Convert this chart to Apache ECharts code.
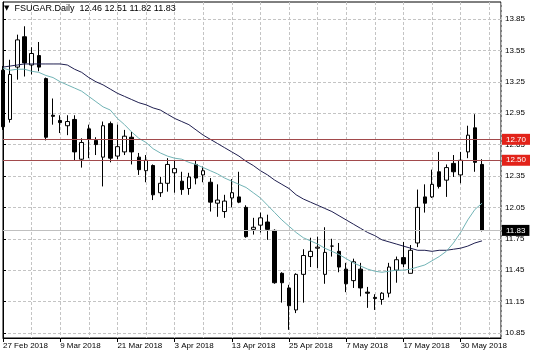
<!DOCTYPE html>
<html><head><meta charset="utf-8">
<script src="https://cdn.jsdelivr.net/npm/echarts@6/dist/echarts.min.js"></script>
<style>html,body{margin:0;padding:0;background:#fff}#c{width:536px;height:357px}</style>
</head><body><div id="c"></div>
<script>
const dates = ['27 Feb 2018','28 Feb 2018','1 Mar 2018','2 Mar 2018','5 Mar 2018','6 Mar 2018','7 Mar 2018','8 Mar 2018','9 Mar 2018','12 Mar 2018',
'13 Mar 2018','14 Mar 2018','15 Mar 2018','16 Mar 2018','19 Mar 2018','20 Mar 2018','21 Mar 2018','22 Mar 2018','23 Mar 2018','26 Mar 2018',
'27 Mar 2018','28 Mar 2018','29 Mar 2018','2 Apr 2018','3 Apr 2018','4 Apr 2018','5 Apr 2018','6 Apr 2018','9 Apr 2018','10 Apr 2018',
'11 Apr 2018','12 Apr 2018','13 Apr 2018','16 Apr 2018','17 Apr 2018','18 Apr 2018','19 Apr 2018','20 Apr 2018','23 Apr 2018','24 Apr 2018',
'25 Apr 2018','26 Apr 2018','27 Apr 2018','30 Apr 2018','1 May 2018','2 May 2018','3 May 2018','4 May 2018','7 May 2018','8 May 2018',
'9 May 2018','10 May 2018','11 May 2018','14 May 2018','15 May 2018','16 May 2018','17 May 2018','18 May 2018','21 May 2018','22 May 2018',
'23 May 2018','24 May 2018','25 May 2018','29 May 2018','30 May 2018','31 May 2018','1 Jun 2018','4 Jun 2018'];
const open = [13.36,12.89,13.39,13.68,13.41,13.50,13.28,12.93,12.88,12.83,
12.89,12.51,12.80,12.69,12.53,12.85,12.54,12.58,12.72,12.53,
12.40,12.45,12.19,12.28,12.38,12.30,12.23,12.46,12.36,12.29,
12.09,12.01,12.14,12.15,12.05,11.84,11.88,11.91,11.83,11.42,
11.28,11.07,11.41,11.58,11.66,11.41,11.68,11.63,11.46,11.35,
11.46,11.24,11.19,11.17,11.23,11.45,11.57,11.42,11.71,12.15,
12.15,12.39,12.31,12.47,12.36,12.58,12.81,12.46];
const close = [12.82,13.32,13.65,13.43,13.52,13.39,12.72,12.92,12.86,12.87,
12.58,12.67,12.70,12.65,12.83,12.52,12.63,12.73,12.58,12.41,
12.50,12.17,12.28,12.46,12.42,12.22,12.34,12.33,12.40,12.10,
12.12,12.11,12.19,12.10,11.77,11.86,11.95,11.84,11.33,11.33,
11.11,11.41,11.59,11.63,11.67,11.62,11.68,11.48,11.32,11.53,
11.28,11.23,11.18,11.23,11.48,11.55,11.51,11.64,12.05,12.09,
12.27,12.25,12.43,12.39,12.50,12.74,12.48,11.83];
const low = [12.79,12.86,13.27,13.30,13.32,13.35,12.69,12.84,12.76,12.74,
12.50,12.43,12.52,12.55,12.25,12.48,12.51,12.55,12.46,12.36,
12.29,12.12,12.15,12.20,12.19,12.17,12.17,12.27,12.29,12.01,
11.96,11.95,12.05,12.09,11.76,11.79,11.81,11.74,11.32,11.14,
10.88,11.04,11.14,11.48,11.47,11.32,11.58,11.43,11.24,11.28,
11.20,11.09,11.07,11.12,11.19,11.33,11.48,11.42,11.67,12.00,
12.14,12.23,12.15,12.34,12.28,12.52,12.39,11.82];
const high = [13.40,13.46,13.70,13.78,13.58,13.63,13.29,13.09,12.93,12.93,
12.93,12.71,12.84,12.72,12.87,12.87,12.84,12.79,12.77,12.57,
12.55,12.46,12.34,12.52,12.50,12.39,12.38,12.50,12.44,12.33,
12.27,12.17,12.32,12.39,12.07,11.95,12.00,11.98,11.84,11.43,
11.31,11.42,11.65,11.76,11.77,11.86,11.75,11.71,11.52,11.56,
11.52,11.29,11.22,11.24,11.52,11.58,11.72,11.69,12.22,12.27,
12.41,12.58,12.46,12.55,12.58,12.83,12.94,12.51];
const maSlow = [13.39,13.40,13.41,13.42,13.42,13.42,13.42,13.42,13.42,13.41,
13.37,13.34,13.29,13.25,13.22,13.18,13.14,13.11,13.08,13.05,
13.03,13.00,12.98,12.94,12.90,12.87,12.84,12.79,12.74,12.70,
12.66,12.62,12.58,12.54,12.49,12.45,12.40,12.36,12.31,12.27,
12.23,12.17,12.13,12.10,12.07,12.04,12.01,11.97,11.93,11.89,
11.85,11.81,11.78,11.74,11.72,11.70,11.68,11.66,11.64,11.64,
11.63,11.64,11.64,11.65,11.66,11.68,11.71,11.73];
const maFast = [13.38,13.36,13.37,13.37,13.35,13.34,13.31,13.29,13.25,13.22,
13.19,13.16,13.11,13.06,13.01,12.98,12.90,12.84,12.77,12.71,
12.67,12.61,12.57,12.54,12.52,12.51,12.48,12.46,12.43,12.40,
12.37,12.33,12.30,12.27,12.24,12.19,12.14,12.07,12.00,11.93,
11.87,11.81,11.76,11.73,11.70,11.66,11.63,11.60,11.56,11.52,
11.49,11.46,11.44,11.43,11.44,11.45,11.45,11.46,11.48,11.50,
11.54,11.58,11.63,11.71,11.81,11.93,12.03,12.09];
const yTicks = [10.85,11.15,11.45,11.75,12.05,12.35,12.65,12.95,13.25,13.55,13.85];
const xTickIdx = [0,8,16,24,32,40,48,56,64];
const levels = [12.70, 12.50];
const lastPrice = 11.83;
const symbolName = 'FSUGAR.Daily';
const lastOHLC = [12.46, 12.51, 11.82, 11.83];

const FONT = 'Liberation Sans';
const XMAX = 69.65;
const candleData = dates.map((d, i) => [i, open[i], close[i], low[i], high[i]]);
const gridDash = {color: '#c4c4c4', type: [3, 2], width: 1};

const levelMarks = levels.map(v => ({
  yAxis: v,
  lineStyle: {color: '#a24a4c', width: 1, type: 'solid'},
  label: {show: true, position: 'end', distance: 1, formatter: v.toFixed(2), color: '#fff',
    backgroundColor: '#e2231a', padding: [1, 4, 1, 4], fontSize: 8, lineHeight: 9, fontFamily: FONT}
}));
levelMarks.push({
  yAxis: lastPrice,
  lineStyle: {color: '#c0c0c0', width: 1, type: 'solid'},
  label: {show: true, position: 'end', distance: 1, formatter: lastPrice.toFixed(2), color: '#fff',
    backgroundColor: '#000', padding: [1, 4, 1, 4], fontSize: 8, lineHeight: 9, fontFamily: FONT}
});

const chart = echarts.init(document.getElementById('c'));
chart.setOption({
  animation: false,
  backgroundColor: '#fff',
  title: {
    text: '{t|▼}  ' + symbolName + '  ' + lastOHLC.map(v => v.toFixed(2)).join(' '),
    left: 4, top: 4, padding: 0,
    textStyle: {fontSize: 9, fontWeight: 'normal', color: '#000', fontFamily: FONT,
      rich: {t: {fontSize: 7, fontFamily: 'DejaVu Sans', color: '#000'}}}
  },
  grid: {left: 3, right: 35, top: 2, bottom: 19, show: true, borderColor: '#000', borderWidth: 1, backgroundColor: '#fff'},
  xAxis: [
    {type: 'value', min: 0, max: XMAX, interval: 4, position: 'bottom',
      axisLine: {show: true, onZero: false, lineStyle: {color: '#000'}},
      axisTick: {show: false}, axisLabel: {show: false},
      splitLine: {show: true, lineStyle: gridDash}},
    {type: 'value', min: 0, max: XMAX, interval: 8, position: 'bottom',
      axisLine: {show: false, onZero: false},
      axisTick: {show: true, length: 4, customValues: xTickIdx, lineStyle: {color: '#000'}},
      axisLabel: {show: true, customValues: xTickIdx, align: 'left', margin: 4, fontSize: 8, fontFamily: FONT, color: '#000',
        formatter: v => (Number.isInteger(v) && dates[v]) ? dates[v] : ''},
      splitLine: {show: false}}
  ],
  yAxis: {
    type: 'value', position: 'right', min: 10.802, max: 14.012, scale: true,
    axisLine: {show: true, lineStyle: {color: '#000'}},
    axisTick: {show: true, inside: false, length: 3, customValues: yTicks, lineStyle: {color: '#000'}},
    axisLabel: {show: true, customValues: yTicks, margin: 4, fontSize: 8, fontFamily: FONT, color: '#000',
      formatter: v => v.toFixed(2)},
    splitLine: {show: true, lineStyle: gridDash}
  },
  series: [
    {type: 'candlestick', xAxisIndex: 0, data: candleData, barWidth: 4,
      itemStyle: {color: '#fff', color0: '#000', borderColor: '#000', borderColor0: '#000', borderWidth: 1},
      markLine: {symbol: 'none', silent: true, animation: false, data: levelMarks}},
    {type: 'line', xAxisIndex: 0, data: maSlow.map((v, i) => [i, v]), symbol: 'none', z: 3,
      lineStyle: {color: '#1f1f50', width: 1}},
    {type: 'line', xAxisIndex: 0, data: maFast.map((v, i) => [i, v]), symbol: 'none', z: 3,
      lineStyle: {color: '#72b4b6', width: 1}}
  ]
});
</script></body></html>
